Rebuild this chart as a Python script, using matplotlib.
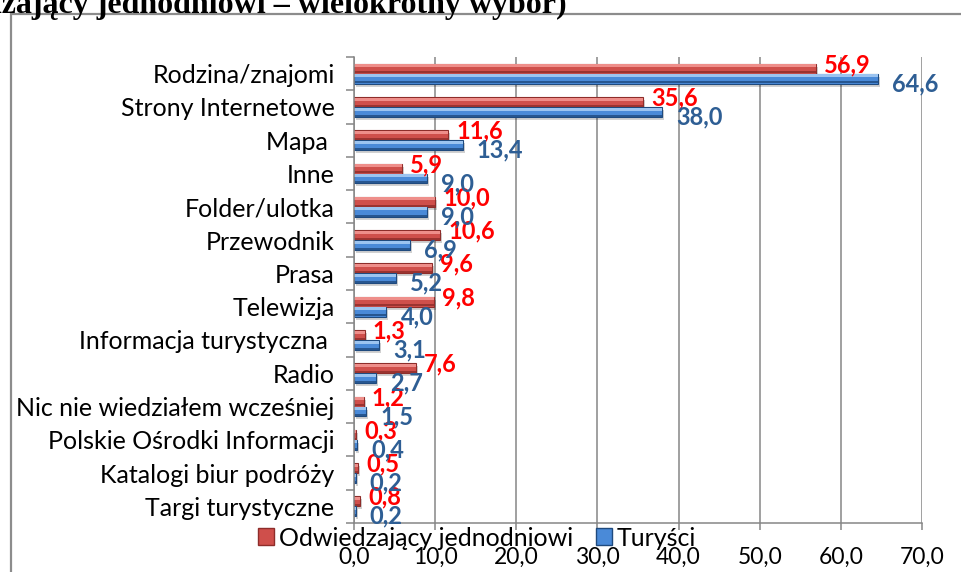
import numpy as np
import matplotlib
matplotlib.use("Agg")
import matplotlib.pyplot as plt
from matplotlib.patches import Patch, Rectangle
import matplotlib.transforms as mtransforms

categories = ["Rodzina/znajomi", "Strony Internetowe", "Mapa ", "Inne", "Folder/ulotka",
              "Przewodnik", "Prasa", "Telewizja", "Informacja turystyczna ", "Radio",
              "Nic nie wiedziałem wcześniej", "Polskie Ośrodki Informacji",
              "Katalogi biur podróży", "Targi turystyczne"]
jednodniowi = [56.9, 35.6, 11.6, 5.9, 10.0, 10.6, 9.6, 9.8, 1.3, 7.6, 1.2, 0.3, 0.5, 0.8]
turysci = [64.6, 38.0, 13.4, 9.0, 9.0, 6.9, 5.2, 4.0, 3.1, 2.7, 1.5, 0.4, 0.2, 0.2]
series_names = ["Odwiedzający jednodniowi", "Turyści"]
xticks = [0, 10, 20, 30, 40, 50, 60, 70]
title_text = "dzający jednodniowi – wielokrotny wybór)"

FONT = "Lato"
W, H = 961, 572
fig = plt.figure(figsize=(W / 100, H / 100), dpi=100)

# outer frame
fig.patches.append(Rectangle((11 / W, -0.1), 1.2, 1 - 14 / H + 0.1, transform=fig.transFigure,
                             fill=False, edgecolor="#8c8c8c", linewidth=1.6))
fig.text(567 / W, 1 - 13 / H, title_text, ha="right", va="baseline",
         family="Liberation Serif", weight="bold", fontsize=23)

ax = fig.add_axes([354 / W, (H - 523) / H, (922 - 354) / W, (523 - 57) / H])
n = len(categories)
y = np.arange(n)
h = 0.3
grid_c = "#868686"

red_main, red_light, red_dark = "#CF4F4B", "#EE8E8A", "#8E2D2A"
blue_main, blue_light, blue_dark = "#4A8AD8", "#9CC4F0", "#1F4A7E"

shadow_tr = ax.transData + mtransforms.ScaledTranslation(2 / 100, -3 / 100, fig.dpi_scale_trans)

def bevel_bars(vals, yc, main, light, dark):
    ax.barh(yc, vals, height=h, color="#000000", alpha=0.18, transform=shadow_tr, zorder=2, linewidth=0)
    ax.barh(yc, vals, height=h, color=main, edgecolor=dark, linewidth=0.8, zorder=3)
    ax.barh(yc - h * 0.28, vals, height=h * 0.3, color=light, linewidth=0, zorder=4)
    ax.barh(yc + h * 0.38, vals, height=h * 0.2, color=dark, linewidth=0, zorder=4, alpha=0.8)

bevel_bars(jednodniowi, y - h / 2, red_main, red_light, red_dark)
bevel_bars(turysci, y + h / 2, blue_main, blue_light, blue_dark)

def fmt(v):
    return f"{v:.1f}".replace(".", ",")

for yi, v in zip(y, jednodniowi):
    ax.annotate(fmt(v), xy=(v, yi - h / 2), xytext=(8, 4), textcoords="offset pixels",
                ha="left", va="center", color="#FF0000", fontsize=17, weight="bold",
                family=FONT, zorder=6, annotation_clip=False)
for yi, v in zip(y, turysci):
    ax.annotate(fmt(v), xy=(v, yi + h / 2), xytext=(14, -5), textcoords="offset pixels",
                ha="left", va="center", color="#2E5E94", fontsize=17, weight="bold",
                family=FONT, zorder=6, annotation_clip=False)

ax.set_xlim(0, 70)
ax.set_ylim(n - 0.5, -0.5)
ax.set_xticks(xticks)
ax.set_xticklabels([fmt(t) for t in xticks], family=FONT, fontsize=16.5)
ax.set_yticks(y)
ax.set_yticklabels(categories, family=FONT, fontsize=18)
ax.set_yticks(np.arange(n + 1) - 0.5, minor=True)
ax.tick_params(axis="y", which="major", length=0, pad=14)
ax.tick_params(axis="y", which="minor", length=6, width=1.1, color=grid_c, direction="out")
ax.tick_params(axis="x", which="major", length=5, width=1.1, color=grid_c, pad=12)
ax.xaxis.grid(True, color=grid_c, linewidth=1.1, zorder=0)
ax.set_axisbelow(True)
for s in ["top", "right"]:
    ax.spines[s].set_visible(False)
for s in ["left", "bottom"]:
    ax.spines[s].set_color(grid_c)
    ax.spines[s].set_linewidth(1.1)
    ax.spines[s].set_zorder(5)

handles = [Patch(facecolor=red_main, edgecolor=red_dark), Patch(facecolor=blue_main, edgecolor=blue_dark)]
fig.legend(handles, series_names, loc="center", bbox_to_anchor=(477 / W, 1 - 538 / H),
           ncol=2, frameon=False, prop={"family": FONT, "size": 18},
           handlelength=0.65, handleheight=0.65, handletextpad=0.2, columnspacing=0.9,
           borderpad=0)

fig.savefig("out.png", dpi=100)
